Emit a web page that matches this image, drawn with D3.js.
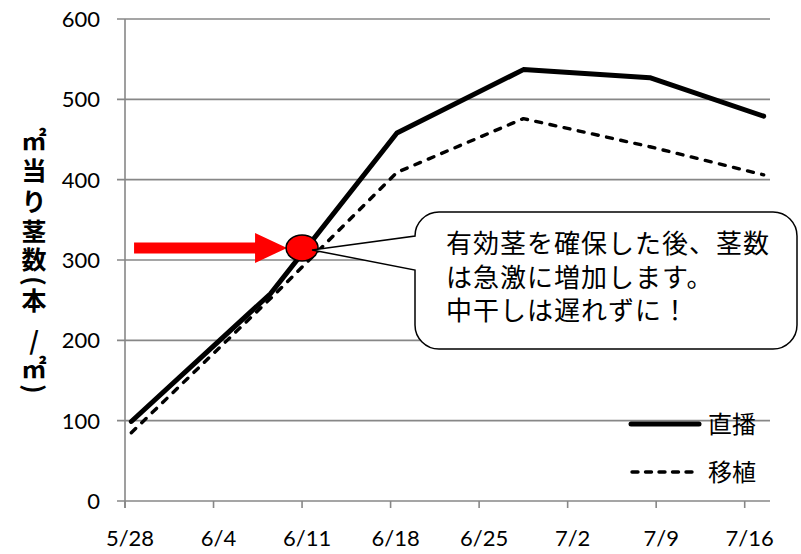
<!DOCTYPE html>
<html>
<head>
<meta charset="utf-8">
<script src="https://cdn.jsdelivr.net/npm/d3@7"></script>
<style>
  html, body { margin: 0; padding: 0; background: #fff; }
  svg { display: block; }
</style>
</head>
<body>
<svg id="chart" width="801" height="554"></svg>
<script>
// 茎数の推移（直播・移植）
const year = 2013;
const sampleDates = ["5/28", "6/8", "6/18", "6/28", "7/8", "7/17"];
const chokuhaValues = [99, 258, 458, 537, 527, 479];   // 直播
const ishokuValues  = [85, 252, 409, 476, 441, 406];   // 移植
const seriesNames = ["直播", "移植"];
const xTickLabels = ["5/28", "6/4", "6/11", "6/18", "6/25", "7/2", "7/9", "7/16"];
const yTickValues = [0, 100, 200, 300, 400, 500, 600];
const highlightDate = "6/11";
const highlightValue = 315;
const calloutLines = ["有効茎を確保した後、茎数", "は急激に増加します。", "中干しは遅れずに！"];
const yTitleChars = ["㎡", "当", "り", "茎", "数", "(", "本", "/", "㎡", ")"];

const parse = s => d3.timeParse("%Y/%m/%d")(year + "/" + s);
const noon = d => d3.timeHour.offset(d, 12);

const svg = d3.select("#chart");
const gridColor = "#878787";
const numFont = "Lato, 'Open Sans', sans-serif";
const jpFont = "'Noto Sans CJK JP', 'Noto Sans', sans-serif";

const x = d3.scaleTime()
  .domain([parse("5/28"), parse("7/18")])
  .range([125, 770]);
const y = d3.scaleLinear().domain([0, 600]).range([501, 19]);

// horizontal gridlines with left tick marks
svg.append("g").selectAll("line").data(yTickValues).join("line")
  .attr("x1", 117).attr("x2", 770)
  .attr("y1", d => y(d)).attr("y2", d => y(d))
  .attr("stroke", gridColor).attr("stroke-width", 1.6);

// y axis line
svg.append("line")
  .attr("x1", 125).attr("x2", 125).attr("y1", y(600)).attr("y2", 508)
  .attr("stroke", gridColor).attr("stroke-width", 1.6);

// x tick marks
svg.append("g").selectAll("line").data(xTickLabels).join("line")
  .attr("x1", d => x(parse(d))).attr("x2", d => x(parse(d)))
  .attr("y1", y(0)).attr("y2", 508)
  .attr("stroke", gridColor).attr("stroke-width", 1.6);

// y tick labels
svg.append("g").selectAll("text").data(yTickValues).join("text")
  .attr("x", 100).attr("y", d => y(d))
  .attr("dy", "0.36em")
  .attr("text-anchor", "end")
  .attr("font-family", numFont).attr("font-size", 22)
  .attr("fill", "#000")
  .text(d => d);

// x tick labels
svg.append("g").selectAll("text").data(xTickLabels).join("text")
  .attr("x", d => x(parse(d)) + 5).attr("y", 546)
  .attr("text-anchor", "middle")
  .attr("font-family", numFont).attr("font-size", 22)
  .attr("fill", "#000")
  .text(d => d);

// vertical y-axis title, one glyph per row; brackets turned sideways
const titleY = [141, 171, 202, 232, 260, 281, 301, 341, 369, 389];
const sideways = c => c === "(" || c === ")";
svg.append("g").selectAll("text").data(yTitleChars).join("text")
  .attr("x", 34).attr("y", (d, i) => titleY[i])
  .attr("dy", "0.36em")
  .attr("text-anchor", "middle")
  .attr("transform", (d, i) => sideways(d) ? `rotate(90,34,${titleY[i]})` : null)
  .attr("font-family", jpFont).attr("font-weight", 700).attr("font-size", 25)
  .attr("fill", "#000")
  .text(d => d);

// series lines
const line = d3.line()
  .x(d => x(noon(parse(d.date))))
  .y(d => y(d.value));
const chokuha = sampleDates.map((d, i) => ({ date: d, value: chokuhaValues[i] }));
const ishoku = sampleDates.map((d, i) => ({ date: d, value: ishokuValues[i] }));

svg.append("path").datum(ishoku)
  .attr("d", line)
  .attr("fill", "none").attr("stroke", "#000")
  .attr("stroke-width", 3.4)
  .attr("stroke-dasharray", "6,8.5")
  .attr("stroke-linecap", "round").attr("stroke-linejoin", "round");

svg.append("path").datum(chokuha)
  .attr("d", line)
  .attr("fill", "none").attr("stroke", "#000")
  .attr("stroke-width", 5)
  .attr("stroke-linecap", "round").attr("stroke-linejoin", "round");

// legend
const legend = svg.append("g");
legend.append("line")
  .attr("x1", 631).attr("x2", 699).attr("y1", 424).attr("y2", 424)
  .attr("stroke", "#000").attr("stroke-width", 5).attr("stroke-linecap", "round");
legend.append("line")
  .attr("x1", 632).attr("x2", 698).attr("y1", 472).attr("y2", 472)
  .attr("stroke", "#000").attr("stroke-width", 3.4)
  .attr("stroke-dasharray", "6,7.5").attr("stroke-linecap", "round");
legend.selectAll("text").data(seriesNames).join("text")
  .attr("x", 708).attr("y", (d, i) => 424 + i * 48)
  .attr("dy", "0.36em")
  .attr("font-family", jpFont).attr("font-size", 24)
  .attr("fill", "#000")
  .text(d => d);

// highlight: arrow and marker
const cx = x(parse(highlightDate));
const cy = y(highlightValue);
const rx = 16, ry = 13;
const tipX = cx - rx + 1;
svg.append("path")
  .attr("d", `M${tipX - 153},${cy - 5.5} H${tipX - 32} V${cy - 15} L${tipX},${cy} L${tipX - 32},${cy + 15} V${cy + 5.5} H${tipX - 153} Z`)
  .attr("fill", "#ff0000");
svg.append("ellipse")
  .attr("cx", cx).attr("cy", cy).attr("rx", rx).attr("ry", ry)
  .attr("fill", "#ff0000").attr("stroke", "#000").attr("stroke-width", 1.6);

// speech-bubble callout
const bx0 = 415, bx1 = 797, by0 = 212, by1 = 349, r = 24;
const wTipX = cx + 10, wTipY = cy + 2;
const bubble = `M${bx0 + r},${by0} H${bx1 - r} A${r},${r} 0 0 1 ${bx1},${by0 + r}
  V${by1 - r} A${r},${r} 0 0 1 ${bx1 - r},${by1} H${bx0 + r}
  A${r},${r} 0 0 1 ${bx0},${by1 - r} V270 L${wTipX},${wTipY} L${bx0},${by0 + r}
  A${r},${r} 0 0 1 ${bx0 + r},${by0} Z`;
svg.append("path")
  .attr("d", bubble)
  .attr("fill", "#fff").attr("stroke", "#000").attr("stroke-width", 1.5);

svg.append("g").selectAll("text").data(calloutLines).join("text")
  .attr("x", 446).attr("y", (d, i) => 253 + i * 33.5)
  .attr("font-family", jpFont).attr("font-size", 26)
  .attr("letter-spacing", 1)
  .attr("fill", "#000")
  .text(d => d);
</script>
</body>
</html>
